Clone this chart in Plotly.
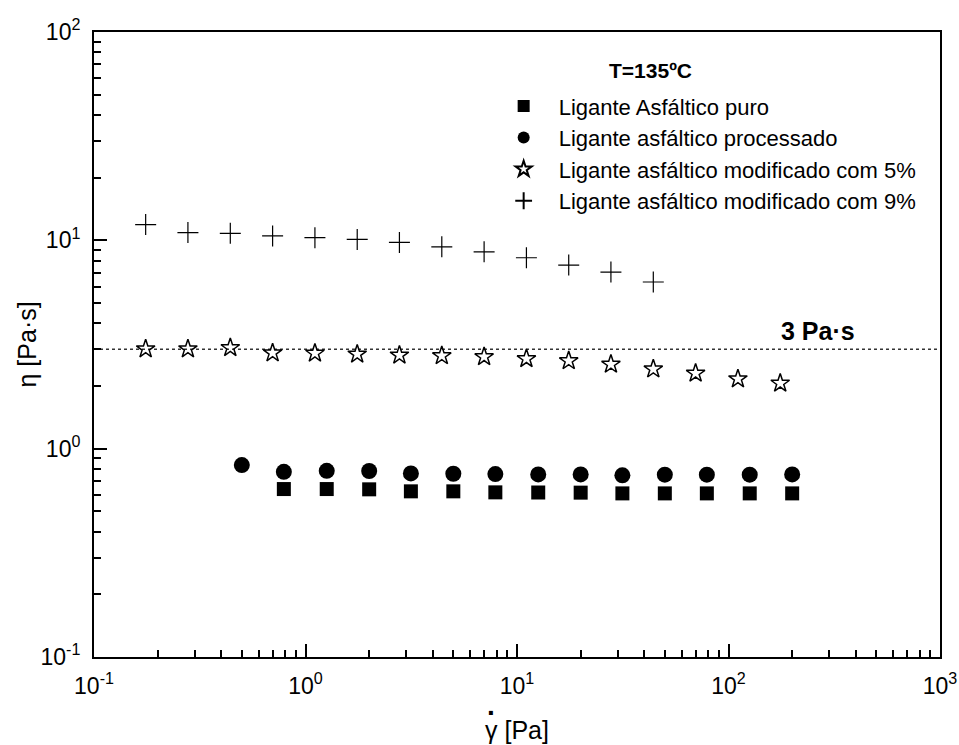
import plotly.graph_objects as go

# ---- data ----
x_puro = [0.79, 1.26, 2.0, 3.15, 5.0, 7.9, 12.6, 20, 31.5, 50, 79, 126, 200]
y_puro = [0.64, 0.64, 0.638, 0.624, 0.624, 0.617, 0.616, 0.615, 0.61, 0.61, 0.61, 0.61, 0.61]

x_proc = [0.5, 0.79, 1.26, 2.0, 3.15, 5.0, 7.9, 12.6, 20, 31.5, 50, 79, 126, 200]
y_proc = [0.834, 0.774, 0.783, 0.781, 0.761, 0.758, 0.755, 0.752, 0.752, 0.745, 0.75, 0.75, 0.75, 0.752]

x_mod5 = [0.1755, 0.278, 0.441, 0.699, 1.108, 1.756, 2.78, 4.41, 6.99, 11.08, 17.56, 27.8, 44.1, 69.9, 110.8, 175.6]
y_mod5 = [3.01, 3.01, 3.05, 2.88, 2.87, 2.84, 2.81, 2.79, 2.76, 2.70, 2.64, 2.54, 2.41, 2.30, 2.16, 2.06]

x_mod9 = [0.1755, 0.278, 0.441, 0.699, 1.108, 1.756, 2.78, 4.41, 6.99, 11.08, 17.56, 27.8, 44.1]
y_mod9 = [11.9, 10.9, 10.8, 10.5, 10.3, 10.1, 9.77, 9.31, 8.81, 8.25, 7.61, 7.04, 6.31]

limit_x = [0.1, 1000]
limit_y = [3, 3]

names = [
    "Ligante Asfáltico puro",
    "Ligante asfáltico processado",
    "Ligante asfáltico modificado com 5%",
    "Ligante asfáltico modificado com 9%",
]

x_tickvals = [0.1, 1, 10, 100, 1000]
x_ticktext = ["10<sup>-1</sup>", "10<sup>0</sup>", "10<sup>1</sup>", "10<sup>2</sup>", "10<sup>3</sup>"]
y_tickvals = [0.1, 1, 10, 100]
y_ticktext = ["10<sup>-1</sup>", "10<sup>0</sup>", "10<sup>1</sup>", "10<sup>2</sup>"]

FONT = "Liberation Sans, Arial, sans-serif"

fig = go.Figure()

fig.add_trace(go.Scatter(x=limit_x, y=limit_y, mode="lines",
                         line=dict(color="#333333", width=1.5, dash="dot"),
                         showlegend=False, hoverinfo="skip"))

fig.add_trace(go.Scatter(x=x_puro, y=y_puro, mode="markers", name=names[0],
                         marker=dict(symbol="square", size=14, color="black")))
fig.add_trace(go.Scatter(x=x_proc, y=y_proc, mode="markers", name=names[1],
                         marker=dict(symbol="circle", size=16, color="black")))
fig.add_trace(go.Scatter(x=x_mod5, y=y_mod5, mode="markers", name=names[2],
                         marker=dict(symbol="star-open", size=14, color="black",
                                     line=dict(width=1.5, color="black"))))
fig.add_trace(go.Scatter(x=x_mod9, y=y_mod9, mode="markers", name=names[3],
                         marker=dict(symbol="cross-thin", size=15, color="black",
                                     line=dict(width=1.2, color="black"))))

minor_vals = [k * 10 ** p for p in range(-1, 3) for k in range(2, 10)]

axis_common = dict(
    type="log",
    automargin=False,
    showgrid=False,
    zeroline=False,
    showline=True,
    linecolor="black",
    linewidth=2,
    mirror=True,
    ticks="inside",
    ticklen=13,
    tickwidth=2,
    tickcolor="black",
    ticklabelstandoff=7,
    tickfont=dict(family=FONT, size=23, color="black"),
)

fig.update_xaxes(
    **axis_common,
    range=[-1, 3],
    tickmode="array",
    tickvals=x_tickvals,
    ticktext=x_ticktext,
    minor=dict(tickmode="array", tickvals=minor_vals, ticks="inside", ticklen=7,
               tickwidth=2, tickcolor="black", showgrid=False),
)
fig.update_yaxes(
    **axis_common,
    range=[-1, 2],
    tickmode="array",
    tickvals=y_tickvals,
    ticktext=y_ticktext,
    minor=dict(tickmode="array", tickvals=minor_vals, ticks="inside", ticklen=7,
               tickwidth=2, tickcolor="black", showgrid=False),
)

# axis titles
fig.add_annotation(text="γ [Pa]", xref="paper", yref="paper", x=0.5, y=-0.117,
                   xanchor="center", yanchor="middle", showarrow=False,
                   font=dict(family=FONT, size=25, color="black"))
fig.add_annotation(text="<b>·</b>", xref="paper", yref="paper", x=0.4695, y=-0.089,
                   xanchor="center", yanchor="middle", showarrow=False,
                   font=dict(family=FONT, size=28, color="black"))
fig.add_annotation(text="η [Pa·s]", xref="paper", yref="paper", x=-0.0792, y=0.5,
                   xanchor="center", yanchor="middle", textangle=-90, showarrow=False,
                   font=dict(family=FONT, size=25, color="black"))

fig.add_annotation(text="<b>3 Pa·s</b>", xref="paper", yref="y", x=0.902, y=0.4771,
                   xanchor="right", yanchor="bottom", yshift=2, showarrow=False,
                   font=dict(family=FONT, size=25, color="black"))
fig.add_annotation(text="<b>T=135ºC</b>", xref="paper", yref="paper", x=0.658, y=0.938,
                   xanchor="center", yanchor="middle", showarrow=False,
                   font=dict(family=FONT, size=21, color="black"))

fig.update_layout(
    width=959, height=745,
    margin=dict(l=94, r=19, t=32, b=88),
    paper_bgcolor="white",
    plot_bgcolor="white",
    font=dict(family=FONT, color="black"),
    legend=dict(x=0.4665, y=0.915, xanchor="left", yanchor="top",
                bgcolor="rgba(0,0,0,0)", font=dict(family=FONT, size=22, color="black"),
                itemsizing="constant", itemwidth=60, tracegroupgap=0),
)

fig.write_html("out.html")
